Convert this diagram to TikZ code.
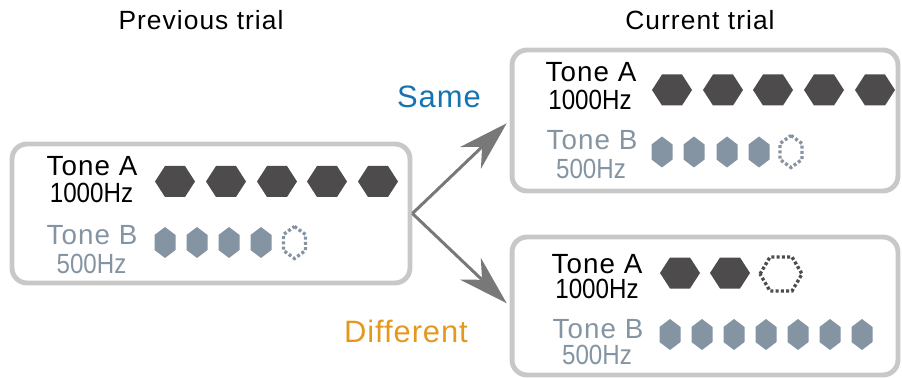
\documentclass[tikz,border=0pt]{standalone}
\usepackage{fontspec}
\setmainfont{Liberation Sans}
\usetikzlibrary{arrows.meta}

\definecolor{hexdark}{RGB}{77,75,76}
\definecolor{hexlight}{RGB}{133,148,163}
\definecolor{boxgray}{RGB}{200,200,200}
\definecolor{arrowgray}{RGB}{120,120,120}
\definecolor{sameblue}{RGB}{21,115,180}
\definecolor{difforange}{RGB}{228,152,30}

\tikzset{
  trialbox/.style={draw=boxgray, line width=2.8pt, rounded corners=0.3cm, inner sep=0pt},
  title/.style={anchor=base, inner sep=0pt, font=\fontsize{15}{17}\selectfont\addfontfeature{LetterSpace=4}},
  tonea/.style={anchor=base, inner sep=0pt, font=\fontsize{15.8}{18}\selectfont\addfontfeature{LetterSpace=4}},
  toneb/.style={tonea, text=hexlight},
  freq/.style={anchor=base, inner sep=0pt, font=\fontsize{15.8}{18}\selectfont\addfontfeature{FakeStretch=0.87}},
  verdict/.style={anchor=base, inner sep=0pt, font=\fontsize{17.6}{20}\selectfont\addfontfeature{LetterSpace=3}},
  flow/.style={draw=arrowgray, line width=1.7pt,
    -{Stealth[length=1cm, width=0.6cm, inset=0.32cm]}, shorten >=0.08cm},
  gap/.style={line width=1.9pt, dash pattern=on 0.06cm off 0.045cm},
  hexa/.pic={\fill[hexdark] (-20,0) -- (-10,-15.5) -- (10,-15.5) -- (20,0) -- (10,15.5) -- (-10,15.5) -- cycle;},
  hexb/.pic={\fill[hexlight] (0,-15.5) -- (10.5,-7.5) -- (10.5,7.5) -- (0,15.5) -- (-10.5,7.5) -- (-10.5,-7.5) -- cycle;},
  gapa/.pic={\draw[gap, hexdark] (-21,0) -- (-11,-17) -- (11,-17) -- (21,0) -- (11,17) -- (-11,17) -- cycle;},
  gapb/.pic={\draw[gap, hexlight] (0,-16) -- (11,-8) -- (11,8) -- (0,16) -- (-11,8) -- (-11,-8) -- cycle;},
}

\begin{document}
\begin{tikzpicture}[x=0.02cm, y=-0.02cm]
  \useasboundingbox (0,0) rectangle (902,378);

  % titles
  \node[title] (prevtitle) at (201,30) {Previous trial};
  \node[title] (curtitle) at (700,30) {Current trial};

  % trial boxes
  \node[trialbox, minimum width=7.96cm, minimum height=2.78cm] (prev) at (211,213.5) {};
  \node[trialbox, minimum width=7.72cm, minimum height=2.82cm] (cursame) at (705,120.5) {};
  \node[trialbox, minimum width=7.72cm, minimum height=2.76cm] (curdiff) at (705,306) {};

  % previous trial
  \node[tonea] (prevA) at (92,175) {Tone A};
  \node[freq] (prevAhz) at (91.5,203) {1000Hz};
  \node[toneb] (prevB) at (92,244) {Tone B};
  \node[freq, text=hexlight] (prevBhz) at (91.5,273) {500Hz};
  \foreach \x in {175,226,277,327,378} \pic at (\x,181.5) {hexa};
  \foreach \x in {165,197,229,261} \pic at (\x,242.5) {hexb};
  \pic at (294.5,242.5) {gapb};

  % current trial, same
  \node[tonea] (sameA) at (591,81.5) {Tone A};
  \node[freq] (sameAhz) at (590,109.5) {1000Hz};
  \node[toneb] (sameB) at (592,149.5) {Tone B};
  \node[freq, text=hexlight] (sameBhz) at (591,178.5) {500Hz};
  \foreach \x in {672,723,773,824,875} \pic at (\x,90) {hexa};
  \foreach \x in {662,694,727,759} \pic at (\x,152) {hexb};
  \pic at (791,151.5) {gapb};

  % current trial, different
  \node[tonea] (diffA) at (597,273) {Tone A};
  \node[freq] (diffAhz) at (597,298.5) {1000Hz};
  \node[toneb] (diffB) at (598,338.5) {Tone B};
  \node[freq, text=hexlight] (diffBhz) at (597,364.5) {500Hz};
  \foreach \x in {680,730} \pic at (\x,273) {hexa};
  \pic at (781,274) {gapa};
  \foreach \x in {670,702,...,862} \pic at (\x,334.5) {hexb};

  % outcomes
  \draw[flow] (prev.east) -- (cursame.west);
  \draw[flow] (prev.east) -- (curdiff.west);
  \node[verdict, text=sameblue] (same) at (439,108) {Same};
  \node[verdict, text=difforange] (diff) at (406,342) {Different};
\end{tikzpicture}
\end{document}
